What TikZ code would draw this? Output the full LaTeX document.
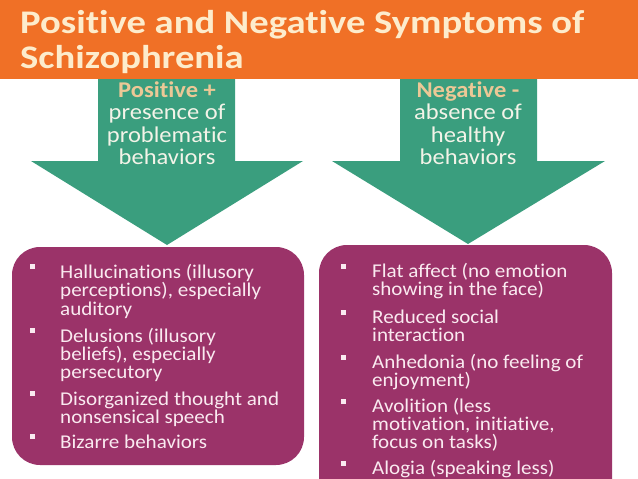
\documentclass[tikz,border=0pt]{standalone}
\usepackage{fontspec}
\setmainfont{Carlito}[Ligatures=NoCommon]
\definecolor{bannerorange}{RGB}{240,112,38}
\definecolor{titlecream}{RGB}{253,236,204}
\definecolor{arrowgreen}{RGB}{58,158,126}
\definecolor{boxpurple}{RGB}{155,51,105}
\definecolor{boxtext}{RGB}{250,234,240}
\definecolor{headtan}{RGB}{236,200,150}
\definecolor{arrowtext}{RGB}{243,243,232}
\newcommand{\tstretch}[1]{\scalebox{1.17}[1]{#1}}
\newcommand{\astretch}[1]{\scalebox{1.09}[1]{#1}}
\newcommand{\bstretch}[1]{\scalebox{1.08}[1]{#1}}
\tikzset{
  titleline/.style={anchor=base west, inner sep=0pt, text=titlecream, font=\fontsize{33}{33}\selectfont\bfseries},
  arrowline/.style={anchor=base, inner sep=0pt, text=arrowtext, font=\fontsize{22.5}{22.5}\selectfont},
  headline/.style={arrowline, text=headtan, font=\fontsize{22.5}{22.5}\selectfont\bfseries},
  ln/.style={anchor=base west, inner sep=0pt, text=boxtext, font=\fontsize{19.5}{19.5}\selectfont},
  bul/.style={fill=boxtext, minimum size=5pt, inner sep=0pt, draw=none, rectangle},
}
\begin{document}
\begin{tikzpicture}[x=1pt,y=-1pt]
\useasboundingbox (0,0) rectangle (638,479);
% banner
\fill[bannerorange] (0,0) rectangle (638,79);
\node[titleline] (t1) at (20,34) {\tstretch{Positive and Negative Symptoms of}};
\node[titleline] (t2) at (20,68) {\tstretch{Schizophrenia}};
% arrows
\fill[arrowgreen] (98,79) -- (235,79) -- (235,161) -- (303,161) -- (167,245) -- (31,161) -- (98,161) -- cycle;
\fill[arrowgreen] (400,79) -- (537,79) -- (537,161) -- (605,161) -- (468,244) -- (332,161) -- (400,161) -- cycle;
\node[headline] (pa1) at (167,97) {\astretch{Positive +}};
\node[arrowline] (pa2) at (167,119.5) {\astretch{presence of}};
\node[arrowline] (pa3) at (167,142) {\astretch{problematic}};
\node[arrowline] (pa4) at (167,164.5) {\astretch{behaviors}};
\node[headline] (na1) at (468,97) {\astretch{Negative -}};
\node[arrowline] (na2) at (468,119.5) {\astretch{absence of}};
\node[arrowline] (na3) at (468,142) {\astretch{healthy}};
\node[arrowline] (na4) at (468,164.5) {\astretch{behaviors}};
% boxes
\fill[boxpurple, rounded corners=28pt] (12,247) rectangle (304,465);
\begin{scope}
\clip (0,0) rectangle (638,479);
\fill[boxpurple, rounded corners=28pt] (319,245) rectangle (612,520);
\end{scope}
% left list
\node[bul] (pb1) at (32,266) {};
\node[ln] (p1a) at (60,278) {\bstretch{Hallucinations (illusory}};
\node[ln] (p1b) at (60,296.5) {\bstretch{perceptions), especially}};
\node[ln] (p1c) at (60,315) {\bstretch{auditory}};
\node[bul] (pb2) at (32,330) {};
\node[ln] (p2a) at (60,342) {\bstretch{Delusions (illusory}};
\node[ln] (p2b) at (60,360) {\bstretch{beliefs), especially}};
\node[ln] (p2c) at (60,378) {\bstretch{persecutory}};
\node[bul] (pb3) at (32,393) {};
\node[ln] (p3a) at (60,405) {\bstretch{Disorganized thought and}};
\node[ln] (p3b) at (60,423) {\bstretch{nonsensical speech}};
\node[bul] (pb4) at (32,436) {};
\node[ln] (p4a) at (60,448) {\bstretch{Bizarre behaviors}};
% right list
\node[bul] (nb1) at (343,266) {};
\node[ln] (n1a) at (372,277) {\bstretch{Flat affect (no emotion}};
\node[ln] (n1b) at (372,295.5) {\bstretch{showing in the face)}};
\node[bul] (nb2) at (343,312) {};
\node[ln] (n2a) at (372,323) {\bstretch{Reduced social}};
\node[ln] (n2b) at (372,341) {\bstretch{interaction}};
\node[bul] (nb3) at (343,357) {};
\node[ln] (n3a) at (372,368) {\bstretch{Anhedonia (no feeling of}};
\node[ln] (n3b) at (372,386) {\bstretch{enjoyment)}};
\node[bul] (nb4) at (343,401) {};
\node[ln] (n4a) at (372,412) {\bstretch{Avolition (less}};
\node[ln] (n4b) at (372,430) {\bstretch{motivation, initiative,}};
\node[ln] (n4c) at (372,448) {\bstretch{focus on tasks)}};
\node[bul] (nb5) at (343,463) {};
\node[ln] (n5a) at (372,474) {\bstretch{Alogia (speaking less)}};
\end{tikzpicture}
\end{document}
